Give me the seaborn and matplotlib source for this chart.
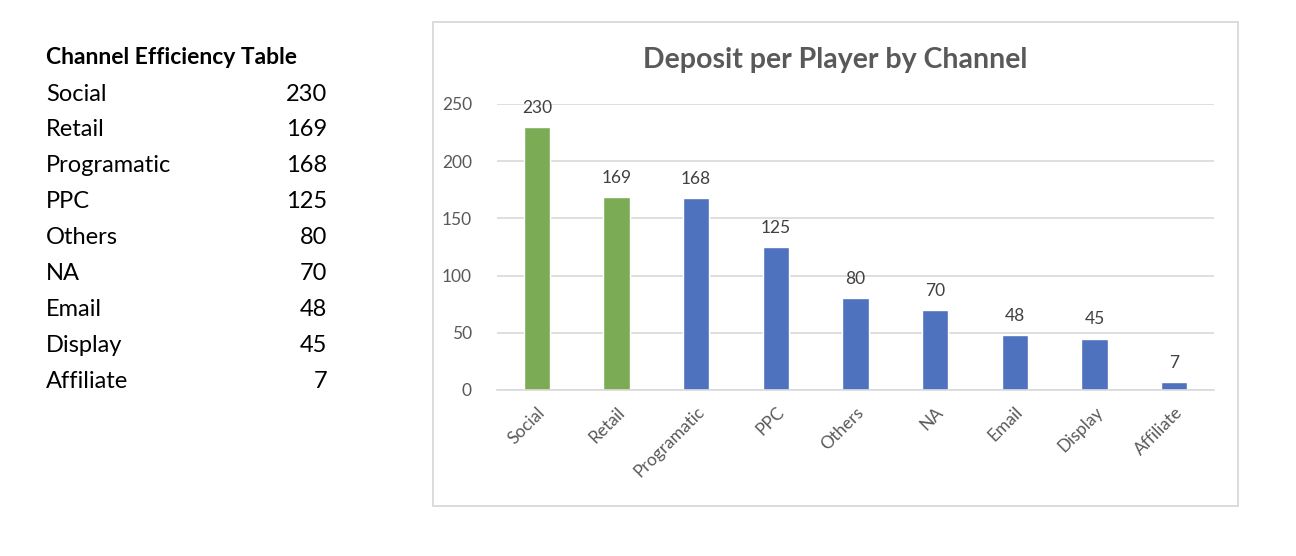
import matplotlib
matplotlib.use("Agg")
import matplotlib.pyplot as plt
import seaborn as sns
import pandas as pd
from matplotlib.patches import Rectangle

channels = ["Social", "Retail", "Programatic", "PPC", "Others", "NA", "Email", "Display", "Affiliate"]
deposits = [230, 169, 168, 125, 80, 70, 48, 45, 7]
highlight = ["top", "top", "rest", "rest", "rest", "rest", "rest", "rest", "rest"]
yticks = [0, 50, 100, 150, 200, 250]

df = pd.DataFrame({"Channel": channels, "Deposit": deposits, "Group": highlight})

sns.set_theme(style="white")
plt.rcParams["font.family"] = ["Lato", "DejaVu Sans"]

W, H = 1296, 556
fig = plt.figure(figsize=(W / 100, H / 100), dpi=100)
fig.patch.set_facecolor("white")

# chart frame
fig.patches.append(Rectangle((433 / W, 1 - 506 / H), (1238 - 433) / W, (506 - 22) / H,
                             transform=fig.transFigure, fill=False, edgecolor="#D9D9D9",
                             linewidth=1.3, zorder=0))

# left table
fig.text(46 / W, 1 - 58 / H, "Channel Efficiency Table", fontsize=16.5, fontweight="bold",
         color="black", va="center", ha="left")
for i, (c, v) in enumerate(zip(channels, deposits)):
    y = 1 - (94 + 36 * i) / H
    fig.text(46 / W, y, c, fontsize=17, color="black", va="center", ha="left")
    fig.text(327 / W, y, str(v), fontsize=17, color="black", va="center", ha="right")

ax = fig.add_axes([497 / W, 1 - 390 / H, (1214 - 497) / W, (390 - 104) / H])
palette = {"top": "#7CAB55", "rest": "#4E72BE"}
sns.barplot(data=df, x="Channel", y="Deposit", hue="Group", palette=palette,
            dodge=False, width=0.33, legend=False, ax=ax, saturation=1)

ax.set_ylim(0, 250)
ax.set_yticks(yticks)
ax.yaxis.grid(True, color="#D9D9D9", linewidth=1.2)
ax.set_axisbelow(True)
for s in ["top", "right", "left"]:
    ax.spines[s].set_visible(False)
ax.spines["bottom"].set_color("#D9D9D9")
ax.spines["bottom"].set_linewidth(1.2)
ax.set_xlabel("")
ax.set_ylabel("")
ax.tick_params(axis="both", length=0, colors="#595959", labelsize=12.5)
ax.tick_params(axis="y", pad=18)
ax.set_xticks(range(len(channels)))
ax.set_xticklabels(channels, rotation=45, ha="right", rotation_mode="anchor")
ax.tick_params(axis="x", pad=10)

for cont in ax.containers:
    ax.bar_label(cont, fmt="%d", padding=8, fontsize=12.5, color="#404040")

fig.text(835 / W, 1 - 60 / H, "Deposit per Player by Channel", fontsize=20.5, fontweight="bold",
         color="#595959", ha="center", va="center")

fig.savefig("out.png", dpi=100, facecolor="white")
